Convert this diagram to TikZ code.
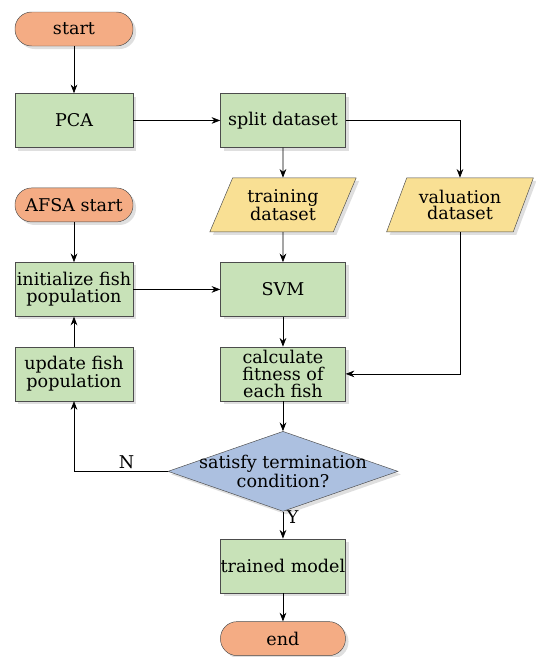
\documentclass[tikz,border=0pt]{standalone}
\usepackage{xcolor}
\usepackage{tikz}
\usepackage{fontspec}
\setmainfont{DejaVu Serif}
\definecolor{termorange}{RGB}{244,172,132}
\definecolor{procgreen}{RGB}{200,226,184}
\definecolor{datayellow}{RGB}{249,224,148}
\definecolor{condblue}{RGB}{172,192,224}
\usetikzlibrary{shapes,arrows,arrows.meta,positioning,shadows,calc}

\begin{document}
\begin{tikzpicture}[
    >={Stealth[length=2.6mm,width=2mm]},
    txt/.style={font=\fontsize{15}{14.5}\selectfont, align=center, inner sep=0pt},
    box/.style={txt, rectangle, draw=black!70, fill=procgreen, drop shadow={opacity=0.25}, minimum width=3.75cm, minimum height=1.62cm},
    term/.style={txt, rectangle, rounded corners=0.5cm, draw=black!70, fill=termorange, drop shadow={opacity=0.25}, minimum width=3.54cm, minimum height=1.02cm},
    data/.style={txt, trapezium, trapezium left angle=63, trapezium right angle=117, trapezium stretches=true, draw=black!70, fill=datayellow, drop shadow={opacity=0.25}, minimum width=4.41cm, minimum height=1.62cm},
    decision/.style={diamond, draw=black!70, fill=condblue, drop shadow={opacity=0.25}, minimum width=6.9cm, minimum height=2.4cm, inner sep=0pt},
    line/.style={draw, semithick, ->}
]
\useasboundingbox (0,0) rectangle (16.08,-19.71);

\node[term] (start) at (2.22,-0.87) {start};
\node[box, minimum width=3.54cm, below=1.41cm of start] (pca) {PCA};
\node[box, right=2.61cm of pca] (split) {split dataset};
\node[data, below=0.9cm of split] (training) {training\\dataset};
\node[data] (valuation) at ($(training)+(5.31,0)$) {valuation\\dataset};
\node[term] (afsa) at (pca |- training) {AFSA start};
\node[box, below=0.9cm of training] (svm) {SVM};
\node[box, minimum width=3.54cm] (init) at (afsa |- svm) {initialize fish\\population};
\node[box, below=0.9cm of svm] (calc) {calculate\\fitness of\\each fish};
\node[box, minimum width=3.54cm] (update) at (init |- calc) {update fish\\population};
\node[decision, below=0.9cm of calc,
      label={[txt]center:satisfy termination\\condition?}] (cond) {};
\node[box, below=0.81cm of cond] (trained) {trained model};
\node[term, minimum width=3.75cm, below=0.85cm of trained] (end) {end};

% connectors
\path[line] (start) -- (pca);
\path[line] (pca) -- (split);
\path[line] (split) -- (training);
\path[line] (split) -| (valuation);
\path[line] (training) -- (svm);
\path[line] (valuation) |- (calc);
\path[line] (afsa) -- (init);
\path[line] (init) -- (svm);
\path[line] (svm) -- (calc);
\path[line] (calc) -- (cond);
\path[line] (cond.west) -| node[txt, above=2pt, pos=0.22] {N} (update);
\path[line] (update) -- (init);
\path[line] (cond) -- node[txt, right=3pt, pos=0.2] {Y} (trained);
\path[line] (trained) -- (end);

\end{tikzpicture}
\end{document}
